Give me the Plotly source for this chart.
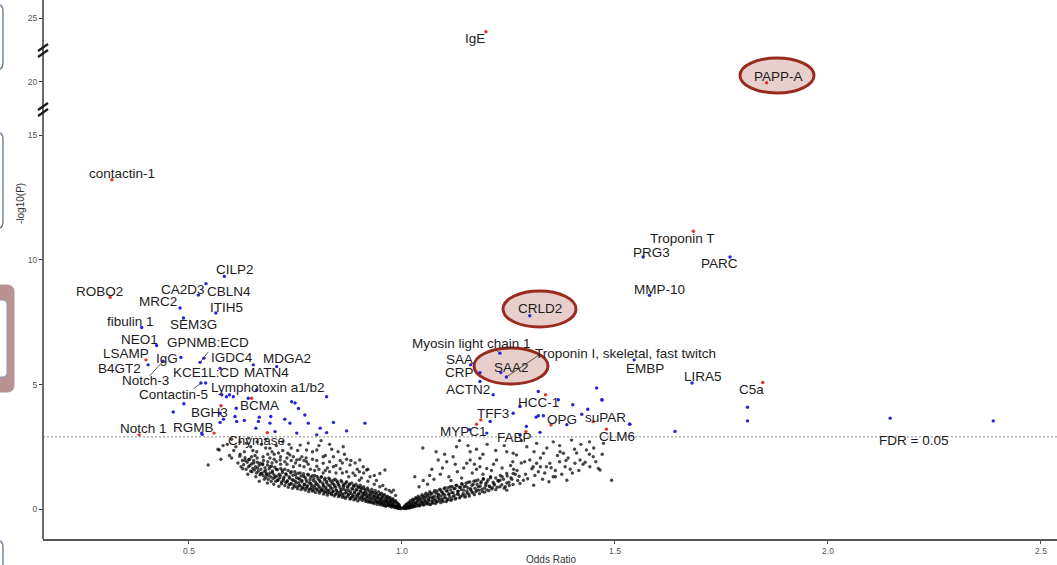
import plotly.graph_objects as go

# ---------------- data ----------------
# labelled proteins: name, odds ratio, -log10(P), highlighted in red
label_names = [
    "IgE", "PAPP-A", "contactin-1", "Troponin T", "PRG3", "PARC", "MMP-10",
    "CILP2", "ROBO2", "CA2D3", "CBLN4", "MRC2", "ITIH5", "SEM3G", "fibulin 1",
    "CRLD2", "NEO1", "GPNMB:ECD", "IGDC4", "IgG", "LSAMP", "B4GT2", "Notch-3",
    "KCE1L:CD", "MDGA2", "MATN4", "Contactin-5", "Lymphotoxin a1/b2", "BCMA",
    "BGH3", "Notch 1", "RGMB", "Chymase", "Myosin light chain 1", "SAA", "SAA2",
    "Troponin I, skeletal, fast twitch", "CRP", "ACTN2", "TFF3", "HCC-1", "OPG",
    "suPAR", "MYPC1", "FABP", "CLM6", "EMBP", "LIRA5", "C5a",
]
label_or = [
    1.197, 1.856, 0.319, 1.684, 1.566, 1.770, 1.581,
    0.583, 0.315, 0.522, 0.540, 0.479, 0.563, 0.487, 0.389,
    1.300, 0.424, 0.535, 0.526, 0.481, 0.399, 0.404, 0.439,
    0.573, 0.651, 0.706, 0.528, 0.539, 0.647,
    0.575, 0.383, 0.559, 0.684, 1.230, 1.161, 1.232,
    1.245, 1.183, 1.183, 1.185, 1.337, 1.350,
    1.449, 1.175, 1.291, 1.480, 1.545, 1.681, 1.847,
]
label_nlp = [
    23.94, 19.92, 13.22, 11.15, 10.12, 10.12, 8.58,
    9.34, 8.50, 8.59, 9.05, 8.07, 7.87, 7.67, 7.29,
    7.76, 6.57, 6.06, 5.89, 6.09, 5.99, 5.79, 5.94,
    5.65, 5.79, 5.72, 5.06, 5.06, 4.45,
    4.15, 2.98, 3.05, 3.07, 6.26, 5.79, 5.48,
    5.30, 5.48, 5.12, 3.58, 4.59, 3.38,
    3.51, 3.41, 3.11, 3.21, 5.99, 5.06, 5.08,
]
red_names = {
    "IgE", "PAPP-A", "contactin-1", "Troponin T", "ROBO2", "LSAMP", "BCMA",
    "BGH3", "Notch 1", "RGMB", "Chymase", "TFF3", "HCC-1", "OPG", "suPAR",
    "MYPC1", "FABP", "CLM6", "C5a",
}

# text placement of each label (odds ratio, -log10(P))
label_text_or = [
    1.171, 1.883, 0.342, 1.659, 1.586, 1.745, 1.604,
    0.608, 0.291, 0.485, 0.595, 0.428, 0.588, 0.510, 0.362,
    1.324, 0.383, 0.545, 0.600, 0.449, 0.352, 0.336, 0.399,
    0.540, 0.729, 0.681, 0.463, 0.686, 0.665,
    0.548, 0.393, 0.510, 0.659, 1.164, 1.135, 1.258,
    1.525, 1.135, 1.156, 1.214, 1.320, 1.375,
    1.477, 1.144, 1.265, 1.504, 1.570, 1.706, 1.821,
]
label_text_nlp = [
    23.42, 20.39, 13.48, 10.87, 10.31, 9.84, 8.82,
    9.60, 8.72, 8.83, 8.73, 8.33, 8.10, 7.40, 7.53,
    8.04, 6.82, 6.68, 6.08, 6.06, 6.26, 5.66, 5.15,
    5.47, 6.06, 5.48, 4.59, 4.90, 4.15,
    3.86, 3.25, 3.28, 2.75, 6.63, 6.01, 5.69,
    6.26, 5.48, 4.82, 3.82, 4.26, 3.59,
    3.66, 3.12, 2.86, 2.92, 5.66, 5.33, 4.79,
]

# connector segments: label name -> start of the leader line
leader_start = {
    "Notch-3": (0.408, 5.35),
    "Contactin-5": (0.510, 4.82),
    "IGDC4": (0.545, 6.30),
    "Myosin light chain 1": (1.218, 6.42),
    "Troponin I, skeletal, fast twitch": (1.323, 6.20),
}

# further significant proteins without labels
sig_or = [
    0.488, 0.595, 0.577, 0.639, 0.659, 0.741, 0.757, 0.772, 0.823, 0.573,
    0.581, 0.608, 0.612, 0.630, 0.665, 0.663, 0.692, 0.690, 0.725, 0.737,
    0.780, 0.808, 0.839, 0.913, 0.753, 0.800, 0.823, 0.870, 0.702, 0.657,
    0.530, 0.463, 0.588, 0.604, 0.749, 0.573, 0.531, 0.611,
    1.214, 1.320, 1.367, 1.401, 1.457, 1.469, 1.436, 1.422, 1.535, 1.261,
    1.277, 1.320, 1.332, 1.387, 1.292, 1.324, 1.207, 1.158, 1.641, 1.811,
    1.811, 2.146, 2.388, 1.315, 1.199, 1.277, 1.534, 1.470,
]
sig_nlp = [
    4.23, 4.59, 4.59, 4.45, 4.78, 4.31, 4.04, 3.78, 4.51, 3.48,
    3.61, 3.72, 3.52, 3.56, 3.69, 3.52, 3.72, 3.45, 3.61, 3.45,
    3.45, 3.25, 3.48, 3.45, 3.05, 2.98, 3.07, 3.14, 3.11, 3.25,
    3.05, 3.90, 4.51, 4.51, 4.26, 3.85, 3.00, 4.05,
    4.59, 4.72, 4.39, 4.19, 4.86, 4.39, 4.01, 3.81, 3.41, 3.85,
    4.12, 3.75, 3.75, 3.39, 3.32, 3.08, 3.52, 3.19, 3.12, 4.09,
    3.54, 3.65, 3.54, 3.69, 3.05, 2.98, 3.41, 4.38,
]

# proteins below the FDR threshold, odds ratio below 1: (odds ratio, -log10(P))
background_lower = [
    (0.997, 0.01), (0.996, 0.05), (0.994, 0.12), (0.993, 0.03), (0.992, 0.2), (0.991, 0.08),
    (0.989, 0.05), (0.988, 0.15), (0.987, 0.27), (0.986, 0.1), (0.985, 0.34), (0.984, 0.06),
    (0.982, 0.09), (0.981, 0.2), (0.980, 0.31), (0.979, 0.42), (0.978, 0.14), (0.977, 0.25),
    (0.975, 0.08), (0.974, 0.36), (0.973, 0.18), (0.972, 0.47), (0.971, 0.28), (0.970, 0.12),
    (0.968, 0.22), (0.967, 0.4), (0.966, 0.52), (0.965, 0.15), (0.964, 0.32), (0.962, 0.11),
    (0.961, 0.26), (0.960, 0.45), (0.959, 0.58), (0.958, 0.19), (0.957, 0.36), (0.955, 0.14),
    (0.954, 0.5), (0.953, 0.28), (0.952, 0.64), (0.951, 0.21), (0.950, 0.41), (0.948, 0.17),
    (0.947, 0.56), (0.946, 0.33), (0.945, 0.7), (0.944, 0.25), (0.943, 0.46), (0.941, 0.19),
    (0.940, 0.62), (0.939, 0.38), (0.938, 0.29), (0.937, 0.75), (0.935, 0.52), (0.934, 0.22),
    (0.933, 0.43), (0.931, 0.67), (0.930, 0.33), (0.929, 0.8), (0.927, 0.26), (0.926, 0.57),
    (0.925, 0.46), (0.923, 0.72), (0.922, 0.37), (0.921, 0.28), (0.919, 0.85), (0.918, 0.6),
    (0.917, 0.5), (0.915, 0.31), (0.914, 0.77), (0.913, 0.41), (0.911, 0.66), (0.910, 0.9),
    (0.909, 0.55), (0.907, 0.35), (0.906, 0.82), (0.905, 0.46), (0.903, 0.7), (0.902, 0.96),
    (0.901, 0.39), (0.899, 0.6), (0.898, 0.87), (0.896, 0.33), (0.895, 0.52), (0.894, 0.76),
    (0.892, 1.0), (0.891, 0.44), (0.889, 0.65), (0.888, 0.92), (0.887, 0.37), (0.885, 0.56),
    (0.884, 0.8), (0.882, 1.05), (0.881, 0.47), (0.879, 0.7), (0.878, 0.4), (0.876, 0.97),
    (0.875, 0.6), (0.873, 0.85), (0.872, 0.5), (0.870, 1.1), (0.869, 0.75), (0.867, 0.43),
    (0.866, 0.64), (0.864, 1.0), (0.863, 0.9), (0.861, 0.54), (0.860, 0.47), (0.858, 0.8),
    (0.857, 1.15), (0.855, 0.68), (0.854, 0.58), (0.852, 0.95), (0.851, 0.5), (0.849, 1.08),
    (0.847, 0.74), (0.846, 0.62), (0.844, 0.88), (0.843, 1.2), (0.841, 0.53), (0.840, 1.0),
    (0.838, 0.7), (0.836, 0.82), (0.835, 0.58), (0.833, 1.12), (0.831, 0.94), (0.830, 0.65),
    (0.828, 1.25), (0.826, 0.76), (0.825, 0.56), (0.823, 1.05), (0.821, 0.88), (0.820, 0.68),
    (0.818, 1.18), (0.816, 0.6), (0.815, 0.98), (0.813, 0.8), (0.811, 1.3), (0.810, 0.72),
    (0.808, 1.1), (0.806, 0.64), (0.805, 0.9), (0.803, 1.22), (0.801, 0.78), (0.799, 1.02),
    (0.797, 0.67), (0.795, 1.35), (0.794, 0.86), (0.792, 1.14), (0.790, 0.72), (0.788, 0.96),
    (0.786, 1.28), (0.785, 0.8), (0.783, 1.06), (0.781, 0.7), (0.779, 1.4), (0.777, 0.9),
    (0.775, 1.18), (0.773, 0.76), (0.771, 1.0), (0.769, 1.32), (0.767, 0.84), (0.765, 1.1),
    (0.763, 0.78), (0.761, 1.45), (0.759, 0.95), (0.757, 1.24), (0.755, 0.82), (0.752, 1.05),
    (0.750, 1.38), (0.748, 0.9), (0.745, 1.16), (0.743, 0.84), (0.740, 1.5), (0.738, 1.0),
    (0.735, 1.3), (0.733, 0.88), (0.730, 1.1), (0.727, 1.42), (0.725, 0.95), (0.722, 1.22),
    (0.719, 1.55), (0.717, 1.02), (0.714, 1.35), (0.711, 0.92), (0.708, 1.15), (0.705, 1.6),
    (0.702, 1.28), (0.699, 1.0), (0.696, 1.46), (0.693, 1.12), (0.690, 1.7), (0.687, 1.35),
    (0.684, 1.05), (0.680, 1.55), (0.677, 1.2), (0.673, 1.78), (0.669, 1.42), (0.665, 1.12),
    (0.661, 1.65), (0.657, 1.3), (0.652, 1.85), (0.648, 1.5), (0.643, 1.75), (0.638, 1.4),
    (0.632, 1.95), (0.626, 1.62),
    (0.9958, 0.07), (0.9931, 0.17), (0.9913, 0.02), (0.9889, 0.24), (0.9871, 0.11), (0.9852, 0.06),
    (0.9829, 0.31), (0.9811, 0.16), (0.9786, 0.09), (0.9768, 0.38), (0.9755, 0.21), (0.9733, 0.13),
    (0.9719, 0.32), (0.9698, 0.44), (0.9679, 0.17), (0.9653, 0.27), (0.9637, 0.49), (0.9626, 0.37),
    (0.9604, 0.14), (0.9589, 0.31), (0.9566, 0.56), (0.9543, 0.22), (0.9528, 0.46), (0.9512, 0.35),
    (0.9494, 0.61), (0.9473, 0.27), (0.9457, 0.43), (0.9436, 0.55), (0.9418, 0.3), (0.9392, 0.48),
    (0.9381, 0.66), (0.9365, 0.37), (0.9347, 0.59), (0.9322, 0.26), (0.9316, 0.52), (0.9294, 0.7),
    (0.9273, 0.42), (0.9255, 0.63), (0.9241, 0.31), (0.9224, 0.55), (0.9206, 0.77), (0.9187, 0.46),
    (0.9161, 0.35), (0.9149, 0.68), (0.9127, 0.58), (0.9116, 0.81), (0.9093, 0.42), (0.9078, 0.64),
    (0.9055, 0.52), (0.9033, 0.86), (0.9021, 0.74), (0.8994, 0.46), (0.8982, 0.63), (0.8963, 0.91),
    (0.8941, 0.56), (0.8925, 0.79), (0.8907, 0.41), (0.8886, 0.69), (0.8863, 0.95), (0.8852, 0.51),
    (0.8827, 0.84), (0.8809, 0.62), (0.8792, 0.44), (0.8771, 1.01), (0.8753, 0.74), (0.8738, 0.56),
    (0.8716, 0.91), (0.8694, 0.66), (0.8683, 1.05), (0.8659, 0.49), (0.8641, 0.79), (0.8622, 0.95),
    (0.8604, 0.61), (0.8588, 1.09), (0.8566, 0.73), (0.8547, 0.86), (0.8529, 0.55), (0.8505, 1.0),
    (0.8491, 0.67), (0.8473, 1.13), (0.8452, 0.77), (0.8436, 0.59), (0.8418, 0.93), (0.8394, 1.16),
    (0.8381, 0.71), (0.8362, 1.04), (0.8344, 0.62), (0.8326, 0.86), (0.8303, 1.2), (0.8289, 0.74),
    (0.8267, 0.97), (0.8251, 0.66), (0.8232, 1.12), (0.8214, 0.8), (0.8195, 1.24), (0.8176, 0.7),
    (0.8158, 0.92), (0.8139, 1.05), (0.8117, 0.76), (0.8102, 1.28), (0.8084, 0.85), (0.8063, 1.16),
    (0.8047, 0.73), (0.8026, 0.98), (0.8008, 1.31), (0.7989, 0.81), (0.7971, 1.09), (0.7953, 0.95),
    (0.7932, 1.22), (0.7917, 0.76), (0.7895, 1.34), (0.7878, 0.87), (0.7859, 1.03), (0.7841, 1.18),
    (0.7822, 0.8), (0.7801, 1.37), (0.7786, 0.94), (0.7765, 1.1), (0.7748, 0.84), (0.7727, 1.27),
    (0.7709, 0.98), (0.7691, 1.42), (0.7672, 0.88), (0.7651, 1.15), (0.7634, 1.33), (0.7613, 0.93),
    (0.7597, 1.2), (0.7578, 1.06), (0.7556, 1.44), (0.7539, 0.9), (0.7521, 1.26), (0.7498, 1.12),
    (0.7482, 1.5), (0.7463, 0.97), (0.7441, 1.36), (0.7425, 1.18), (0.7403, 1.03), (0.7386, 1.46),
    (0.7364, 1.24), (0.7349, 0.99), (0.7327, 1.55), (0.7309, 1.14), (0.7288, 1.38), (0.7271, 1.07),
    (0.7249, 1.6), (0.7232, 1.29), (0.7211, 1.15), (0.7193, 1.47), (0.7172, 1.09), (0.7154, 1.63),
    (0.7133, 1.26), (0.7116, 1.4), (0.7094, 1.18), (0.7077, 1.58), (0.7055, 1.32), (0.7038, 1.12),
    (0.7016, 1.68), (0.6998, 1.37), (0.6977, 1.23), (0.6959, 1.53), (0.6938, 1.72), (0.6921, 1.29),
    (0.6899, 1.45), (0.6882, 1.62), (0.6861, 1.2), (0.6843, 1.77), (0.6822, 1.39), (0.6804, 1.28),
    (0.6783, 1.66), (0.6765, 1.5), (0.6744, 1.34), (0.6726, 1.82), (0.6705, 1.44), (0.6687, 1.6),
    (0.6666, 1.38), (0.6648, 1.76), (0.6627, 1.52), (0.6605, 1.88), (0.6583, 1.45), (0.6562, 1.7),
    (0.6541, 1.58), (0.6519, 1.95), (0.6498, 1.63), (0.6472, 1.82), (0.6449, 1.52), (0.6421, 2.0),
    (0.6398, 1.7), (0.6367, 1.88), (0.6341, 1.6), (0.6315, 2.06), (0.6282, 1.78), (0.6254, 1.95),
    (0.6221, 1.7), (0.6193, 2.12),
    # sparse upper part
    (0.975, 0.68), (0.962, 0.8), (0.948, 0.9), (0.935, 1.0), (0.920, 1.12), (0.905, 1.25),
    (0.890, 1.35), (0.960, 1.57), (0.948, 1.43), (0.980, 0.76), (0.909, 1.70), (0.901, 1.97),
    (0.900, 1.16), (0.917, 1.57), (0.878, 1.77), (0.862, 2.50), (0.839, 2.10), (0.839, 1.70),
    (0.815, 1.84), (0.815, 2.10), (0.800, 2.37), (0.776, 1.90), (0.776, 2.37), (0.761, 2.57),
    (0.753, 1.97), (0.737, 2.17), (0.732, 2.24), (0.714, 1.97), (0.690, 2.44), (0.682, 1.43),
    (0.674, 2.10), (0.667, 1.84), (0.659, 2.30), (0.647, 2.10), (0.635, 2.64), (0.545, 1.77),
    (0.571, 2.37), (0.568, 2.40), (0.600, 2.80), (0.870, 1.50), (0.855, 1.62), (0.830, 1.90),
    (0.820, 1.55), (0.800, 1.72), (0.790, 2.00), (0.780, 1.80), (0.765, 2.10), (0.750, 1.85),
    (0.740, 2.45), (0.725, 1.90), (0.710, 2.25), (0.700, 2.00), (0.685, 2.20), (0.670, 2.60),
    (0.660, 2.05), (0.650, 2.35), (0.640, 1.98), (0.620, 2.20), (0.610, 2.50), (0.600, 2.05),
    (0.885, 1.45), (0.870, 2.00), (0.850, 2.30), (0.830, 2.60), (0.810, 2.75), (0.780, 2.65),
    (0.720, 2.70), (0.680, 2.80), (0.640, 2.85), (0.590, 2.60), (0.860, 1.85), (0.845, 1.45),
    (0.825, 1.65), (0.805, 1.60), (0.795, 1.55), (0.770, 1.70), (0.760, 1.75), (0.745, 1.70),
    (0.730, 1.80), (0.715, 1.80), (0.705, 1.90), (0.695, 1.85),
    (0.985, 0.55), (0.970, 0.75), (0.955, 0.95), (0.940, 1.15), (0.925, 1.30), (0.910, 1.45),
    (0.895, 1.60), (0.880, 1.95), (0.865, 2.20), (0.855, 1.95), (0.835, 2.40), (0.820, 2.15),
    (0.805, 2.55), (0.790, 2.30), (0.775, 2.05), (0.755, 2.35), (0.745, 2.10), (0.735, 2.60),
    (0.720, 2.35), (0.705, 2.55), (0.695, 2.30), (0.680, 2.45), (0.675, 1.95), (0.660, 2.70),
    (0.655, 2.15), (0.645, 2.50), (0.630, 2.30), (0.620, 2.70), (0.615, 1.85), (0.605, 2.35),
    (0.595, 2.15), (0.580, 2.55), (0.575, 2.00), (0.935, 1.35), (0.920, 1.60), (0.900, 1.50),
    (0.890, 1.85), (0.875, 1.30), (0.860, 1.45), (0.845, 1.75), (0.830, 1.50), (0.815, 1.45),
    (0.800, 1.95), (0.785, 1.60), (0.770, 1.95), (0.760, 2.00), (0.740, 1.95), (0.730, 2.05),
    (0.715, 2.10), (0.700, 2.20), (0.690, 2.05), (0.685, 1.90),
]

# proteins below the FDR threshold, odds ratio above 1
background_upper = [
    (1.003, 0.02), (1.004, 0.08), (1.006, 0.04), (1.007, 0.14), (1.009, 0.06), (1.010, 0.2),
    (1.012, 0.03), (1.013, 0.1), (1.015, 0.26), (1.016, 0.06), (1.018, 0.16), (1.019, 0.34),
    (1.021, 0.08), (1.022, 0.22), (1.024, 0.12), (1.025, 0.4), (1.027, 0.3), (1.028, 0.09),
    (1.030, 0.18), (1.032, 0.46), (1.033, 0.26), (1.035, 0.12), (1.037, 0.36), (1.038, 0.52),
    (1.040, 0.2), (1.042, 0.14), (1.043, 0.42), (1.045, 0.3), (1.047, 0.58), (1.049, 0.17),
    (1.051, 0.48), (1.052, 0.24), (1.054, 0.36), (1.056, 0.64), (1.058, 0.2), (1.060, 0.54),
    (1.062, 0.3), (1.063, 0.42), (1.065, 0.7), (1.067, 0.18), (1.069, 0.6), (1.071, 0.26),
    (1.073, 0.48), (1.075, 0.36), (1.077, 0.75), (1.079, 0.22), (1.081, 0.64), (1.083, 0.3),
    (1.085, 0.54), (1.087, 0.42), (1.089, 0.8), (1.091, 0.26), (1.093, 0.7), (1.095, 0.35),
    (1.097, 0.6), (1.099, 0.46), (1.101, 0.86), (1.104, 0.3), (1.106, 0.74), (1.108, 0.4),
    (1.110, 0.58), (1.113, 0.9), (1.115, 0.35), (1.117, 0.66), (1.120, 0.5), (1.122, 0.82),
    (1.125, 0.4), (1.127, 0.96), (1.130, 0.6), (1.132, 0.72), (1.135, 0.45), (1.137, 0.88),
    (1.140, 1.02), (1.142, 0.55), (1.145, 0.76), (1.148, 0.48), (1.150, 0.92), (1.153, 0.64),
    (1.155, 1.08), (1.158, 0.52), (1.161, 0.82), (1.164, 0.7), (1.167, 1.0), (1.170, 0.58),
    (1.173, 1.14), (1.176, 0.76), (1.179, 0.9), (1.182, 0.62), (1.185, 1.05), (1.188, 0.8),
    (1.191, 1.2), (1.194, 0.68), (1.197, 0.95), (1.200, 1.1), (1.204, 0.74), (1.208, 1.26),
    (1.212, 0.86), (1.216, 1.02), (1.220, 0.78), (1.225, 1.15), (1.230, 0.9), (1.235, 1.3),
    (1.240, 0.84), (1.246, 1.05), (1.252, 0.95), (1.258, 1.2),
    (1.0048, 0.05), (1.0069, 0.1), (1.0087, 0.02), (1.0104, 0.16), (1.0121, 0.07), (1.0143, 0.22),
    (1.0158, 0.12), (1.0176, 0.04), (1.0194, 0.27), (1.0211, 0.15), (1.0232, 0.07), (1.0248, 0.33),
    (1.0263, 0.19), (1.0285, 0.38), (1.0302, 0.11), (1.0317, 0.25), (1.0339, 0.42), (1.0354, 0.17),
    (1.0372, 0.3), (1.0391, 0.46), (1.0408, 0.13), (1.0425, 0.36), (1.0444, 0.22), (1.0463, 0.51),
    (1.0479, 0.28), (1.0497, 0.41), (1.0515, 0.16), (1.0533, 0.55), (1.0551, 0.31), (1.0569, 0.46),
    (1.0586, 0.24), (1.0604, 0.6), (1.0623, 0.37), (1.0641, 0.19), (1.0658, 0.5), (1.0676, 0.64),
    (1.0695, 0.33), (1.0712, 0.44), (1.0731, 0.24), (1.0749, 0.68), (1.0767, 0.52), (1.0786, 0.38),
    (1.0804, 0.29), (1.0822, 0.73), (1.0841, 0.47), (1.0858, 0.6), (1.0877, 0.34), (1.0895, 0.77),
    (1.0914, 0.53), (1.0932, 0.41), (1.0951, 0.66), (1.0969, 0.3), (1.0988, 0.82), (1.1007, 0.57),
    (1.1026, 0.45), (1.1045, 0.72), (1.1064, 0.36), (1.1082, 0.86), (1.1101, 0.62), (1.1123, 0.49),
    (1.1142, 0.77), (1.1161, 0.4), (1.1179, 0.91), (1.1202, 0.66), (1.1224, 0.55), (1.1245, 0.83),
    (1.1263, 0.44), (1.1287, 0.95), (1.1308, 0.71), (1.1326, 0.59), (1.1349, 0.88), (1.1371, 0.5),
    (1.1393, 0.78), (1.1415, 1.0), (1.1437, 0.63), (1.1458, 0.9), (1.1482, 0.54), (1.1503, 1.04),
    (1.1526, 0.72), (1.1548, 0.85), (1.1571, 0.6), (1.1594, 1.09), (1.1617, 0.77), (1.1642, 0.95),
    (1.1664, 0.65), (1.1688, 1.12), (1.1712, 0.84), (1.1736, 0.7), (1.1761, 1.0), (1.1784, 1.17),
    (1.1809, 0.76), (1.1835, 0.92), (1.1861, 1.1), (1.1887, 0.7), (1.1912, 1.22), (1.1939, 0.85),
    (1.1966, 1.03), (1.1994, 0.77), (1.2022, 1.18), (1.2050, 0.93), (1.2079, 1.3), (1.2108, 0.81),
    (1.2139, 1.08), (1.2170, 0.97), (1.2202, 1.25), (1.2236, 0.88), (1.2271, 1.12), (1.2308, 1.35),
    (1.2344, 0.98), (1.2383, 1.2), (1.2425, 0.9), (1.2469, 1.33), (1.2512, 1.08), (1.2558, 1.26),
    (1.2607, 0.99), (1.2659, 1.4), (1.2716, 1.15),
    # sparse upper part
    (1.049, 2.45), (1.128, 2.50), (1.085, 1.97), (1.105, 1.90), (1.152, 1.84), (1.183, 2.04),
    (1.199, 1.63), (1.222, 1.97), (1.246, 2.30), (1.269, 2.17), (1.293, 2.50), (1.300, 1.97),
    (1.316, 1.84), (1.332, 2.24), (1.339, 1.70), (1.355, 1.30), (1.371, 2.30), (1.383, 1.70),
    (1.406, 1.84), (1.418, 1.97), (1.433, 2.37), (1.449, 2.10), (1.465, 1.57), (1.316, 2.64),
    (1.355, 2.70), (1.398, 2.77), (1.261, 1.43), (1.285, 1.16), (1.230, 1.16), (1.309, 0.96),
    (1.246, 0.76), (1.120, 2.10), (1.160, 1.97), (1.183, 1.70), (1.261, 2.24), (1.308, 1.70),
    (1.347, 1.84), (1.379, 2.24), (1.441, 1.70), (1.461, 1.63), (1.387, 1.16), (1.277, 1.03),
    (1.473, 2.64), (1.492, 1.16), (1.206, 0.90), (1.246, 1.43), (1.060, 1.00), (1.075, 1.20),
    (1.090, 1.40), (1.110, 1.30), (1.130, 1.50), (1.140, 1.25), (1.165, 1.45), (1.175, 1.60),
    (1.190, 1.40), (1.210, 1.55), (1.215, 1.80), (1.235, 1.65), (1.255, 1.75), (1.270, 1.55),
    (1.280, 1.85), (1.290, 1.40), (1.320, 1.50), (1.330, 1.20), (1.360, 1.55), (1.370, 1.90),
    (1.400, 1.45), (1.420, 2.60), (1.440, 2.20), (1.100, 2.20), (1.070, 1.60), (1.040, 0.90),
    (1.030, 1.30), (1.160, 2.30), (1.200, 2.60), (1.240, 2.55), (1.280, 2.75), (1.340, 2.45),
    (1.390, 2.05), (1.430, 1.88),
    (1.262, 1.60), (1.275, 1.32), (1.288, 1.90), (1.295, 1.22), (1.305, 1.62), (1.312, 1.35),
    (1.325, 2.05), (1.335, 1.45), (1.345, 1.10), (1.350, 1.66), (1.365, 2.15), (1.375, 1.40),
    (1.385, 1.95), (1.395, 1.60), (1.410, 2.25), (1.415, 1.55), (1.425, 1.80), (1.450, 2.45),
    (1.455, 1.90), (1.470, 2.20), (1.260, 1.90), (1.220, 2.35), (1.190, 2.20), (1.170, 1.80),
    (1.145, 1.65), (1.125, 1.80), (1.095, 1.65), (1.080, 2.30), (1.065, 1.35), (1.050, 1.15),
    (1.115, 1.15), (1.135, 2.75), (1.155, 2.55), (1.175, 2.40), (1.310, 2.30), (1.325, 1.70),
    (1.360, 1.30), (1.370, 2.55), (1.405, 2.40), (1.440, 2.70),
]

FDR_LEVEL = 2.9          # -log10(P) at FDR = 0.05
LOWER_TOP = 16.06        # top of the lower y segment
UPPER_BOTTOM = 17.85     # bottom of the upper y segment

# ---------------- geometry helpers (pixel -> paper) ----------------
W, H = 1057, 565
ML, MB = 43, 26
PW, PH = W - ML, H - MB


def paper(px, py):
    return (px - ML) / PW, (H - MB - py) / PH


BREAK_FRAC = paper(0, 109)[1]
FONT = "Liberation Sans, Arial, sans-serif"

# ---------------- traces ----------------
fig = go.Figure()

background = background_lower + background_upper
fig.add_trace(go.Scatter(
    x=[p[0] for p in background], y=[p[1] for p in background],
    mode="markers", marker=dict(color="rgba(0,0,0,0.72)", size=3.4),
    hoverinfo="skip", showlegend=False))

fig.add_trace(go.Scatter(
    x=sig_or, y=sig_nlp, mode="markers",
    marker=dict(color="#2424d8", size=3.4), showlegend=False))


def axis_for(v):
    return "y2" if v > LOWER_TOP else "y"


for colour, want_red in (("#2424d8", False), ("#e8302a", True)):
    for ax in ("y", "y2"):
        xs, ys = [], []
        for n, o, v in zip(label_names, label_or, label_nlp):
            if (n in red_names) == want_red and axis_for(v) == ax:
                xs.append(o)
                ys.append(v)
        if xs:
            fig.add_trace(go.Scatter(
                x=xs, y=ys, yaxis=ax, mode="markers",
                marker=dict(color=colour, size=3.4), showlegend=False))

# ---------------- labels ----------------
annotations = []
for n, tx, ty in zip(label_names, label_text_or, label_text_nlp):
    annotations.append(dict(
        x=tx, y=ty, xref="x", yref=axis_for(ty), text=n, showarrow=False,
        xanchor="center", yanchor="middle",
        font=dict(family=FONT, size=13.5, color="#1c1c1c")))

annotations.append(dict(
    x=2.200, y=2.75, xref="x", yref="y", text="FDR = 0.05", showarrow=False,
    xanchor="center", yanchor="middle",
    font=dict(family=FONT, size=13.5, color="#1c1c1c")))

annotations.append(dict(
    x=paper(551, 0)[0], y=paper(0, 559)[1], xref="paper", yref="paper",
    text="Odds Ratio", showarrow=False, xanchor="center", yanchor="middle",
    font=dict(family=FONT, size=10, color="#333")))
annotations.append(dict(
    x=paper(20, 0)[0], y=paper(0, 204)[1], xref="paper", yref="paper",
    text="-log10(P)", textangle=-90, showarrow=False,
    xanchor="center", yanchor="middle",
    font=dict(family=FONT, size=10, color="#333")))

# ---------------- shapes ----------------
shapes = []

# FDR threshold
shapes.append(dict(type="line", xref="paper", yref="y", x0=0, x1=1,
                   y0=FDR_LEVEL, y1=FDR_LEVEL,
                   line=dict(color="#8a8a8a", width=1, dash="2px,2px")))

# leader lines
pos = {n: (o, v) for n, o, v in zip(label_names, label_or, label_nlp)}
for n, (sx, sy) in leader_start.items():
    ex, ey = pos[n]
    shapes.append(dict(type="line", xref="x", yref="y", x0=sx, y0=sy,
                       x1=ex, y1=ey, line=dict(color="#333", width=0.8)))

# highlight ellipses
for (x0, y0, x1, y1) in ((740, 58, 814, 93), (503, 291, 576, 327),
                         (474, 348, 548, 384)):
    a0, b0 = paper(x0, y1)
    a1, b1 = paper(x1, y0)
    shapes.append(dict(type="circle", xref="paper", yref="paper",
                       x0=a0, y0=b0, x1=a1, y1=b1, layer="below",
                       fillcolor="#e8cfcb",
                       line=dict(color="#9a2a1f", width=3)))

# left spine
shapes.append(dict(type="line", xref="paper", yref="paper", x0=0, x1=0,
                   y0=0, y1=paper(0, -2)[1], line=dict(color="#2b2b2b", width=1.4)))

# axis break marks
for cy in (50, 109):
    for off in (-3, 3):
        a0, b0 = paper(38, cy + off + 4)
        a1, b1 = paper(48, cy + off - 3)
        shapes.append(dict(type="line", xref="paper", yref="paper",
                           x0=a0, y0=b0, x1=a1, y1=b1,
                           line=dict(color="#1a1a1a", width=2.2)))


def rounded(x0, y0, x1, y1, r):
    pts = [
        ("M", (x0 + r, y0)), ("L", (x1 - r, y0)), ("Q", (x1, y0), (x1, y0 + r)),
        ("L", (x1, y1 - r)), ("Q", (x1, y1), (x1 - r, y1)), ("L", (x0 + r, y1)),
        ("Q", (x0, y1), (x0, y1 - r)), ("L", (x0, y0 + r)),
        ("Q", (x0, y0), (x0 + r, y0)),
    ]
    out = []
    for cmd, *cs in pts:
        out.append(cmd + " " + " ".join("%.5f,%.5f" % paper(*c) for c in cs))
    return " ".join(out) + " Z"


# slide frames at the left border
for (y0, y1) in ((4, 70), (132, 229), (540, 600)):
    shapes.append(dict(type="path", xref="paper", yref="paper",
                       path=rounded(-30, y0, 3, y1, 7),
                       line=dict(color="#56698c", width=1.2)))
shapes.append(dict(type="path", xref="paper", yref="paper",
                   path=rounded(-30, 285, 14, 392, 7),
                   fillcolor="#b89392", line=dict(color="#b89392", width=1)))
shapes.append(dict(type="path", xref="paper", yref="paper",
                   path=rounded(-30, 300, 7, 377, 5),
                   fillcolor="white", line=dict(color="#8d9bb5", width=1)))

# ---------------- layout ----------------
tickfont = dict(family=FONT, size=8.5, color="#555")
fig.update_layout(
    width=W, height=H,
    margin=dict(l=ML, r=0, t=0, b=MB),
    paper_bgcolor="white", plot_bgcolor="white",
    showlegend=False,
    xaxis=dict(range=[0.1573, 2.5376], tickvals=[0.5, 1.0, 1.5, 2.0, 2.5],
               ticktext=["0.5", "1.0", "1.5", "2.0", "2.5"],
               showgrid=False, zeroline=False, showline=True,
               linecolor="#555", linewidth=2, ticks="outside", ticklen=3,
               tickcolor="#555", tickfont=tickfont),
    yaxis=dict(domain=[0, BREAK_FRAC], range=[-1.2, LOWER_TOP],
               tickvals=[0, 5, 10, 15], showgrid=False, zeroline=False,
               showline=False, ticks="outside", ticklen=3, tickcolor="#333",
               tickfont=tickfont),
    yaxis2=dict(domain=[BREAK_FRAC, 1], range=[UPPER_BOTTOM, 26.44],
                anchor="x", tickvals=[20, 25], showgrid=False,
                zeroline=False, showline=False, ticks="outside", ticklen=3,
                tickcolor="#333", tickfont=tickfont),
    annotations=annotations,
    shapes=shapes,
)

fig.write_html("out.html")
